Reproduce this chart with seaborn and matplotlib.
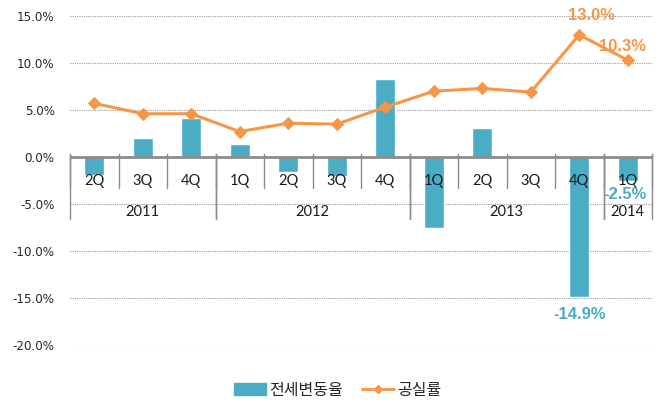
import matplotlib
matplotlib.use("Agg")
import matplotlib.pyplot as plt
from matplotlib.lines import Line2D
from matplotlib.patches import Patch
import numpy as np
import pandas as pd
import seaborn as sns

# data
quarters = ["2Q", "3Q", "4Q", "1Q", "2Q", "3Q", "4Q", "1Q", "2Q", "3Q", "4Q", "1Q"]
years = ["2011", "2012", "2013", "2014"]
quarters_per_year = [3, 4, 4, 1]
jeonse_change = [-1.9, 2.0, 4.1, 1.4, -1.6, -2.0, 8.3, -7.6, 3.1, 0.0, -14.9, -2.5]
vacancy = [5.7, 4.6, 4.6, 2.7, 3.6, 3.5, 5.3, 7.0, 7.3, 6.9, 13.0, 10.3]
y_ticks = [-20, -15, -10, -5, 0, 5, 10, 15]

TEAL = "#4BACC6"
ORANGE = "#F79646"
GRAY = "#8c8c8c"

year_of = [y for y, n in zip(years, quarters_per_year) for _ in range(n)]
df = pd.DataFrame({
    "period": [f"{y}-{q}" for y, q in zip(year_of, quarters)],
    "pos": np.arange(len(quarters)),
    "전세변동율": jeonse_change,
    "공실률": vacancy,
})

sns.set_style("white")
plt.rcParams["font.family"] = ["DejaVu Sans"]

fig = plt.figure(figsize=(6.62, 4.03), dpi=100)
ax = fig.add_axes([70 / 662, 1 - 345 / 403, 582 / 662, 329 / 403])

sns.barplot(data=df, x="period", y="전세변동율", color=TEAL, saturation=1,
            width=0.42, ax=ax, zorder=3)
sns.lineplot(data=df, x="pos", y="공실률", color=ORANGE, marker="D",
             markersize=6, markeredgecolor=ORANGE, linewidth=2.2, ax=ax, zorder=4)

ax.set_xlim(-0.5, len(quarters) - 0.5)
ax.set_ylim(-20, 15)
for s in ax.spines.values():
    s.set_visible(False)

# dotted gridlines and solid zero axis
for v in y_ticks:
    if v != 0:
        ax.axhline(v, color="#9a9a9a", lw=0.8, ls=(0, (1, 1)), zorder=1)
ax.axhline(0, color=GRAY, lw=2, zorder=5)

ax.set_yticks(y_ticks)
ax.set_yticklabels([f"{v:.1f}%" for v in y_ticks], fontsize=8.6, color="#262626")
ax.tick_params(axis="y", length=0, pad=11)
ax.set_xticks([])
ax.set_xlabel("")
ax.set_ylabel("")

# multi-level category axis
for i, q in enumerate(quarters):
    ax.text(i, -2.5, q, ha="center", va="center", fontsize=10.5,
            family="Lato", color="#1a1a1a", zorder=6)
for b in range(len(quarters) + 1):
    ax.plot([b - 0.5, b - 0.5], [0.3, -3.3], color=GRAY, lw=1, clip_on=False, zorder=5)
start = 0
for y, n in zip(years, quarters_per_year):
    ax.text(start + (n - 1) / 2, -5.8, y, ha="center", va="center", fontsize=10.5,
            family="Lato", color="#1a1a1a", zorder=6)
    for b in (start, start + n):
        ax.plot([b - 0.5, b - 0.5], [0.3, -6.6], color=GRAY, lw=1, clip_on=False, zorder=5)
    start += n

# value labels
lab = dict(fontsize=12, fontweight="bold", family="Liberation Sans", ha="center", va="center", zorder=7)
ax.text(10.25, 15.0, f"{vacancy[10]:.1f}%", color=ORANGE, **lab)
ax.text(10.9, 11.8, f"{vacancy[11]:.1f}%", color=ORANGE, **lab)
ax.text(10.0, -16.8, f"{jeonse_change[10]:.1f}%", color=TEAL, **lab)
ax.text(10.95, -4.0, f"{jeonse_change[11]:.1f}%", color=TEAL, **lab)

if ax.get_legend() is not None:
    ax.get_legend().remove()
handles = [
    Patch(facecolor=TEAL, edgecolor=TEAL),
    Line2D([0], [0], color=ORANGE, lw=2, marker="D", markersize=4),
]
fig.legend(handles, ["전세변동율", "공실률"], loc="center", bbox_to_anchor=(0.51, 1 - 390 / 403),
           ncol=2, frameon=False, handlelength=2.0, handleheight=0.8, handletextpad=0.2,
           columnspacing=1.2, prop={"family": ["Noto Sans CJK KR", "DejaVu Sans"], "size": 11.5})

fig.savefig("out.png", dpi=100)
